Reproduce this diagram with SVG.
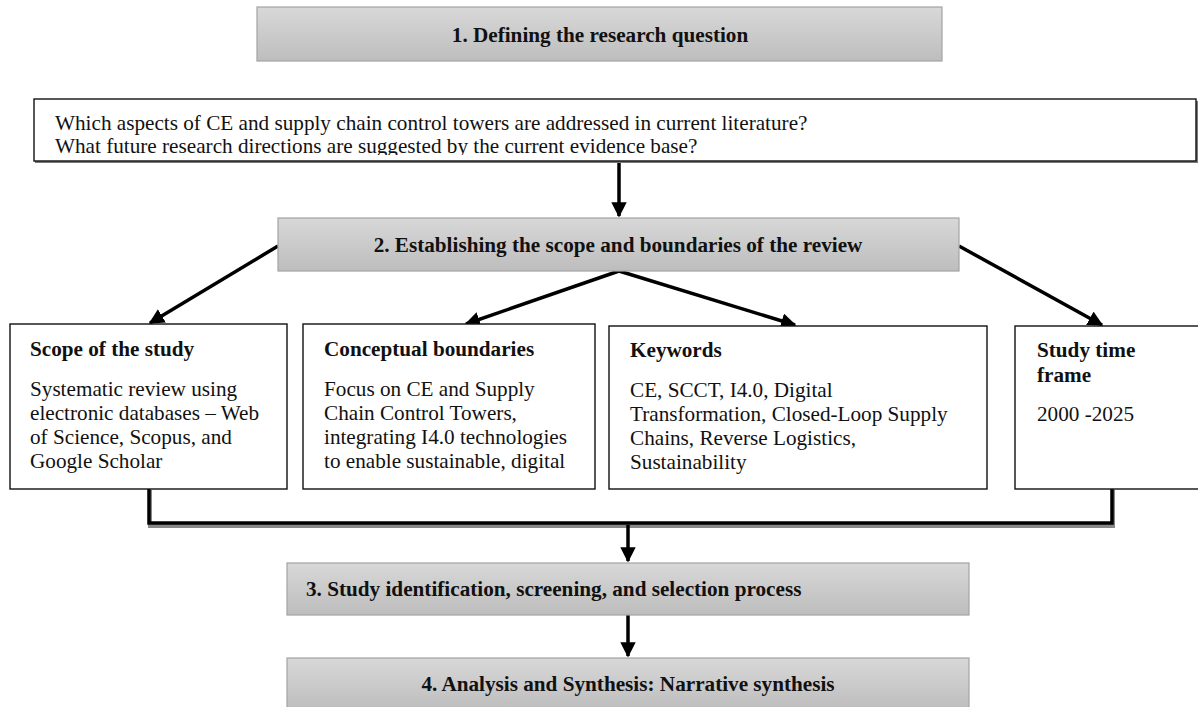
<svg xmlns="http://www.w3.org/2000/svg" width="1198" height="707" viewBox="0 0 1198 707">
<style>
.g{fill:url(#grad);stroke:#a3a3a3;stroke-width:1.2}
.w{fill:#fff;stroke:#111;stroke-width:1.4}
.t{font-family:"Liberation Serif","Times New Roman",serif;font-size:21.2px;fill:#111}
.b{font-weight:bold}
.c{stroke:#000;stroke-width:3.5;fill:none}
</style>
<defs>
<linearGradient id="grad" x1="0" y1="0" x2="0" y2="1">
<stop offset="0" stop-color="#d8d8d8"/>
<stop offset="1" stop-color="#bdbdbd"/>
</linearGradient>
<marker id="ah" viewBox="0 0 10 10" refX="9" refY="5" markerWidth="4.4" markerHeight="4.4" markerUnits="strokeWidth" orient="auto">
<path d="M0,0 L10,5 L0,10 z" fill="#000"/>
</marker>
<clipPath id="qclip"><rect x="34" y="99" width="1164" height="56"/></clipPath>
</defs>

<g id="connectors">
<line class="c" x1="619" y1="163" x2="619" y2="216" marker-end="url(#ah)"/>
<line class="c" x1="278" y1="246" x2="150" y2="323" marker-end="url(#ah)"/>
<line class="c" x1="619" y1="271" x2="466" y2="324" marker-end="url(#ah)"/>
<line class="c" x1="619" y1="271" x2="795" y2="325" marker-end="url(#ah)"/>
<line class="c" x1="959" y1="246" x2="1102" y2="325" marker-end="url(#ah)"/>
<polyline points="150,490 150,526 1113,526 1113,490" fill="none" stroke="#888" stroke-width="4"/>
<polyline points="149,489 149,523 1112,523 1112,489" class="c" stroke-width="4"/>
<line class="c" x1="628" y1="525" x2="628" y2="561" marker-end="url(#ah)"/>
<line class="c" x1="628" y1="615" x2="628" y2="656" marker-end="url(#ah)"/>
</g>

<g id="step1">
<rect class="g" x="257" y="7" width="685" height="54"/>
<text class="t b" x="600" y="42" text-anchor="middle">1. Defining the research question</text>
</g>

<g id="questions">
<rect x="35" y="101" width="1163" height="62" fill="#7a7a7a"/>
<rect class="w" x="34" y="99" width="1162" height="62"/>
<g clip-path="url(#qclip)">
<text class="t" x="55" y="130">Which aspects of CE and supply chain control towers are addressed in current literature?</text>
<text class="t" x="55" y="153">What future research directions are suggested by the current evidence base?</text>
</g>
</g>

<g id="step2">
<rect class="g" x="278" y="218" width="681" height="53"/>
<text class="t b" x="618" y="252" text-anchor="middle">2. Establishing the scope and boundaries of the review</text>
</g>

<g id="scope">
<rect class="w" x="10" y="324" width="277" height="165"/>
<text class="t b" x="30" y="356">Scope of the study</text>
<text class="t" x="30" y="396">Systematic review using</text>
<text class="t" x="30" y="420">electronic databases – Web</text>
<text class="t" x="30" y="444">of Science, Scopus, and</text>
<text class="t" x="30" y="468">Google Scholar</text>
</g>

<g id="conceptual">
<rect class="w" x="303" y="324" width="292" height="165"/>
<text class="t b" x="324" y="356">Conceptual boundaries</text>
<text class="t" x="324" y="396">Focus on CE and Supply</text>
<text class="t" x="324" y="420">Chain Control Towers,</text>
<text class="t" x="324" y="444">integrating I4.0 technologies</text>
<text class="t" x="324" y="468">to enable sustainable, digital</text>
</g>

<g id="keywords">
<rect class="w" x="609" y="326" width="378" height="163"/>
<text class="t b" x="630" y="357">Keywords</text>
<text class="t" x="630" y="397">CE, SCCT, I4.0, Digital</text>
<text class="t" x="630" y="421">Transformation, Closed-Loop Supply</text>
<text class="t" x="630" y="445">Chains, Reverse Logistics,</text>
<text class="t" x="630" y="469">Sustainability</text>
</g>

<g id="timeframe">
<rect class="w" x="1015" y="326" width="190" height="163"/>
<text class="t b" x="1037" y="357">Study time</text>
<text class="t b" x="1037" y="382">frame</text>
<text class="t" x="1037" y="421">2000 -2025</text>
</g>

<g id="step3">
<rect class="g" x="287" y="563" width="682" height="52"/>
<text class="t b" x="306" y="596">3. Study identification, screening, and selection process</text>
</g>

<g id="step4">
<rect class="g" x="287" y="658" width="682" height="52"/>
<text class="t b" x="628" y="691" text-anchor="middle">4. Analysis and Synthesis: Narrative synthesis</text>
</g>
</svg>
